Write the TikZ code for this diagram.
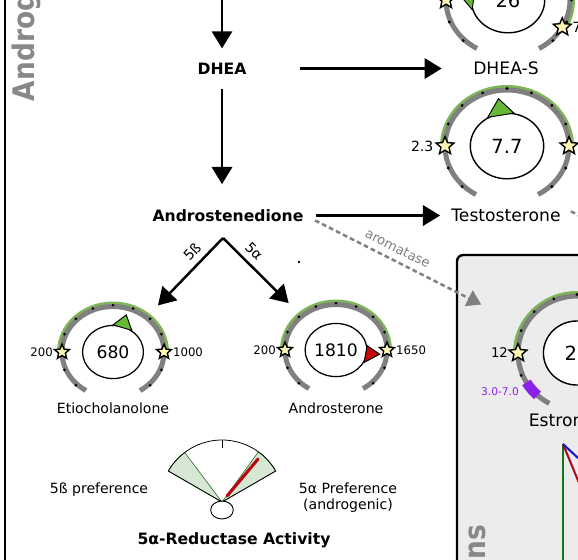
\documentclass[tikz,border=0pt]{standalone}
\usepackage{graphicx}
\usepackage{fontspec}
\setmainfont{DejaVu Sans}
\usetikzlibrary{arrows.meta,shapes.geometric,positioning}

\definecolor{gaugegray}{RGB}{128,128,128}
\definecolor{bandgreen}{RGB}{128,180,88}
\definecolor{ptrgreen}{RGB}{104,184,56}
\definecolor{ptrred}{RGB}{196,8,8}
\definecolor{starfill}{RGB}{255,248,180}
\definecolor{panelgray}{RGB}{236,236,236}
\definecolor{rangeviolet}{RGB}{140,34,232}
\definecolor{fangreen}{RGB}{214,232,212}
\definecolor{fanline}{RGB}{40,110,40}
\definecolor{titlegray}{RGB}{136,136,136}
\definecolor{linegreen}{RGB}{20,120,20}
\definecolor{linered}{RGB}{170,10,20}
\definecolor{lineblue}{RGB}{20,20,200}

\begin{document}
\begin{tikzpicture}[x=0.0225cm,y=0.0225cm,
  every node/.style={inner sep=1pt},
  arr/.style={-{Triangle[length=11pt,width=13pt]},line width=1.6pt},
  aro/.style={-{Triangle[length=9pt,width=11pt]},draw=gaugegray,line width=1.6pt,dash pattern=on 3pt off 2pt},
  bname/.style={font=\fontsize{10}{12}\selectfont\bfseries},
  tname/.style={font=\fontsize{11}{13}\selectfont},
  sname/.style={font=\fontsize{9}{10.2}\selectfont},
  bigval/.style={ellipse,draw,fill=white,line width=0.9pt,inner sep=0pt,minimum width=47pt,minimum height=42pt,font=\fontsize{12.5}{14}\selectfont},
  smallval/.style={ellipse,draw,fill=white,line width=0.8pt,inner sep=0pt,minimum width=39pt,minimum height=34pt,font=\fontsize{11}{13}\selectfont},
  toplim/.style={font=\fontsize{9}{11}\selectfont},
  lowlim/.style={font=\fontsize{7.5}{9}\selectfont},
  garc/.style={draw=gaugegray,line width=3.2pt},
  gband/.style={draw=bandgreen,line width=3.2pt},
  lvl/.style={star,star points=5,star point ratio=2.2,draw,line width=0.9pt,fill=starfill,inner sep=0pt,minimum size=#1},
  lvl/.default=10pt,
  ptr/.style={draw,line width=0.6pt,fill=#1},
  title/.style={font=\fontsize{19}{21}\selectfont\bfseries,text=titlegray,rotate=90}
]
\useasboundingbox (0,0) rectangle (578,-559);
\clip (0,0) rectangle (578,-559);

% panels
\draw[line width=1.5pt] (5,20) -- (5,-580);
\draw[line width=1.5pt,fill=panelgray,rounded corners=4pt] (457,-255) rectangle (700,-650);
\node[title,anchor=base west] (androtitle) at (35,-103) {\scalebox{.89}[1]{Androg}};
\node[title,anchor=base east] (estrotitle) at (485,-523) {\scalebox{.89}[1]{ns}};

% DHEA-S gauge
\coordinate (gs) at (508,0);
\draw[gband] (gs) ++(-29:64.5 and 58.5) arc[start angle=-29,end angle=180,x radius=64.5,y radius=58.5];
\draw[garc] (gs) ++(-60:62 and 56) arc[start angle=-60,end angle=240,x radius=62,y radius=56];
\foreach \a in {-45,-22.5,...,225} \fill ([shift={(\a:63.5 and 57.5)}]gs) circle (1.6);
\node[bigval] (vdheas) at (gs) {26};
\filldraw[ptr=ptrgreen] (vdheas.195) -- ([shift={(172:50 and 47)}]gs) -- (vdheas.152) -- cycle;
\node[lvl=12pt] (slo) at ([shift={(180:62 and 56)}]gs) {};
\node[lvl=12pt] (shi) at ([shift={(-29:62 and 56)}]gs) {};
\node[toplim,right=1pt of shi] (shilab) {7};

% Testosterone gauge
\coordinate (gt) at (507,-146);
\draw[gband] (gt) ++(0:64.5 and 58.5) arc[start angle=0,end angle=180,x radius=64.5,y radius=58.5];
\draw[garc] (gt) ++(-60:62 and 56) arc[start angle=-60,end angle=240,x radius=62,y radius=56];
\foreach \a in {-45,-22.5,...,225} \fill ([shift={(\a:63.5 and 57.5)}]gt) circle (1.6);
\node[bigval] (vtesto) at (gt) {7.7};
\filldraw[ptr=ptrgreen] (vtesto.124) -- ([shift={(100:49 and 48)}]gt) -- (vtesto.78) -- cycle;
\node[lvl=12pt] (tlo) at ([shift={(180:62 and 56)}]gt) {};
\node[lvl=12pt] (thi) at ([shift={(0:62 and 56)}]gt) {};
\node[toplim,left=2pt of tlo] (tlolab) {2.3};

% Etiocholanolone gauge
\coordinate (ge) at (113,-352);
\draw[gband] (ge) ++(0:53.5 and 48) arc[start angle=0,end angle=180,x radius=53.5,y radius=48];
\draw[garc] (ge) ++(-58:51 and 45.5) arc[start angle=-58,end angle=238,x radius=51,y radius=45.5];
\foreach \a in {-45,-22.5,...,225} \fill ([shift={(\a:52.5 and 47)}]ge) circle (1.5);
\node[smallval] (vetio) at (ge) {680};
\filldraw[ptr=ptrgreen] (vetio.90) -- ([shift={(72:43 and 39)}]ge) -- (vetio.49) -- cycle;
\node[lvl] (elo) at ([shift={(180:51 and 45.5)}]ge) {};
\node[lvl] (ehi) at ([shift={(0:51 and 45.5)}]ge) {};
\node[lowlim,left=1pt of elo] (elolab) {200};
\node[lowlim,right=1pt of ehi] (ehilab) {1000};
\node[sname] (etio) at (113,-408) {Etiocholanolone};

% Androsterone gauge
\coordinate (ga) at (336,-350);
\draw[gband] (ga) ++(0:53.5 and 48) arc[start angle=0,end angle=180,x radius=53.5,y radius=48];
\draw[garc] (ga) ++(-58:51 and 45.5) arc[start angle=-58,end angle=238,x radius=51,y radius=45.5];
\foreach \a in {-45,-22.5,...,225} \fill ([shift={(\a:52.5 and 47)}]ga) circle (1.5);
\node[smallval] (vandros) at (ga) {1810};
\filldraw[ptr=ptrred] (vandros.8) -- ([shift={(-6:44 and 40)}]ga) -- (vandros.-24) -- cycle;
\node[lvl] (alo) at ([shift={(180:51 and 45.5)}]ga) {};
\node[lvl] (ahi) at ([shift={(0:51 and 45.5)}]ga) {};
\node[lowlim,left=1pt of alo] (alolab) {200};
\node[lowlim,right=1pt of ahi] (ahilab) {1650};
\node[sname] (andros) at (336,-408) {Androsterone};

% Estrone gauge
\coordinate (gn) at (577,-353);
\draw[gband] (gn) ++(0:61.5 and 59.5) arc[start angle=0,end angle=180,x radius=61.5,y radius=59.5];
\draw[garc] (gn) ++(-62:59 and 57) arc[start angle=-62,end angle=242,x radius=59,y radius=57];
\foreach \a in {-45,-22.5,...,225} \fill ([shift={(\a:60.5 and 58.5)}]gn) circle (1.6);
\draw[rangeviolet,line width=6.5pt] (gn) ++(211:59 and 57) arc[start angle=211,end angle=228,x radius=59,y radius=57];
\node[bigval,minimum width=43pt,minimum height=41pt] (vestr) at (gn) {2\phantom{0}};
\node[lvl=12pt] (nlo) at ([shift={(180:59 and 57)}]gn) {};
\node[font=\fontsize{8.5}{10}\selectfont,left=1pt of nlo] (nlolab) {12};
\node[font=\fontsize{6.8}{8}\selectfont,text=rangeviolet] (nrange) at (500,-392) {3.0-7.0};
\node[tname,anchor=west] (estrone) at (527,-420) {Estron};
\coordinate (efan) at (563,-444);
\draw[line width=1.3pt,linegreen] (efan) -- ++(0,-140);
\draw[line width=1.3pt,linered] (efan) -- ++(28,-68);
\draw[line width=1.3pt,lineblue] (efan) -- ++(30,-28);

% steroid names
\node[bname] (dhea) at (222,-68.5) {DHEA};
\node[tname] (dheas) at (506,-68.5) {DHEA-S};
\node[bname] (andro) at (228,-215.5) {Androstenedione};
\node[tname] (testo) at (506,-215.5) {Testosterone};

% conversions
\coordinate (in) at (222,5);
\draw[arr,shorten >=8pt] (in) -- (dhea);
\draw[arr,shorten <=8pt,shorten >=15pt] (dhea) -- (dhea |- andro.north);
\draw[arr,shorten <=33pt,shorten >=19pt] (dhea) -- (dheas);
\draw[arr,shorten <=7pt,shorten >=6pt] (andro) -- (testo);
\coordinate (fork) at (223,-238);
\draw[arr,shorten >=23pt] (fork) -- (vetio) node[pos=.24,sloped,above=3pt,sname] {5ß};
\draw[arr,shorten >=24pt] (fork) -- (vandros) node[pos=.24,sloped,above=3pt,sname] {5α};
\draw[aro,shorten <=7pt,shorten >=47pt] (andro.east) -- (vestr)
  node[pos=.36,sloped,above=3pt,font=\fontsize{8.5}{10}\selectfont,text=gaugegray] {aromatase};
\coordinate (estrad) at (700,-275);
\draw[aro,shorten <=6pt] (testo.north east) -- (estrad);
\fill (299,-262) circle (1.3);

% 5a-reductase activity
\coordinate (fan) at (222,-502);
\filldraw[fill=fangreen,draw=fanline,line width=0.4pt] (fan) -- ++(150:62) arc[start angle=150,end angle=127,radius=62] -- cycle;
\filldraw[fill=fangreen,draw=fanline,line width=0.4pt] (fan) -- ++(54:62) arc[start angle=54,end angle=30,radius=62] -- cycle;
\draw[line width=0.5pt] (fan) -- ++(30:62) arc[start angle=30,end angle=150,radius=62] -- cycle;
\draw[line width=0.5pt] (fan) ++(90:62) -- ++(0,-8);
\draw[line width=2pt,linered!85!red,line cap=round] (fan) ++(50:8) -- ++(50:48);
\node[ellipse,draw,fill=white,line width=0.6pt,minimum width=14.5pt,minimum height=11.5pt] (hub) at (222,-510) {};
\node[sname] (pbeta) at (99,-490) {5ß preference};
\node[sname,align=center] (palpha) at (348,-498) {5α Preference\\(androgenic)};
\node[bname] (redtitle) at (234,-540) {5α-Reductase Activity};
\end{tikzpicture}
\end{document}
